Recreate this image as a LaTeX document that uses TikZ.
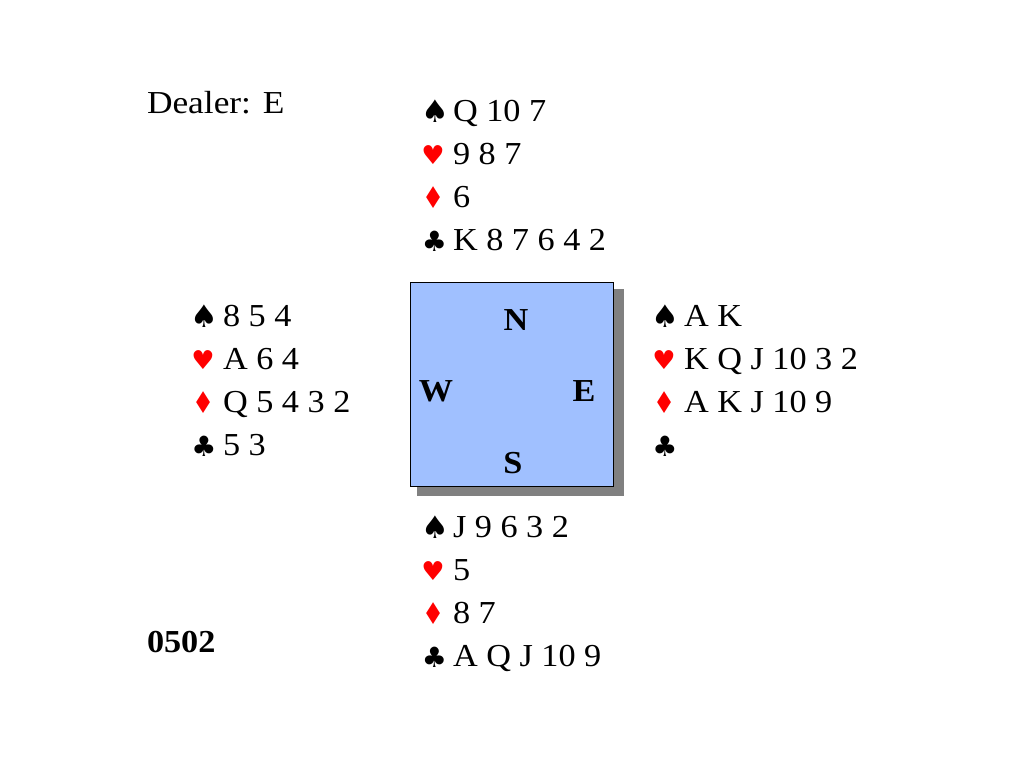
\documentclass[tikz,border=0pt]{standalone}
\usepackage{fontspec}
\setmainfont[FakeStretch=1.07]{Liberation Serif}
\newfontfamily\dealerfont[FakeStretch=1.105]{Liberation Serif}
\newfontfamily\suitfont{DejaVu Sans}
\newfontfamily\diamondfont[FakeStretch=0.82]{DejaVu Sans}
\definecolor{boxblue}{HTML}{A0C0FF}
\definecolor{suitred}{HTML}{FF0000}
\definecolor{shadowgray}{HTML}{808080}
\tikzset{
  x=1pt,y=-1pt,
  cardtext/.style={anchor=base west,inner sep=0pt,outer sep=0pt,font=\fontsize{32}{36}\selectfont},
  spadesuit/.style={anchor=base,inner sep=0pt,outer sep=0pt,text=black,font=\fontsize{31}{36}\suitfont},
  clubsuit/.style={anchor=base,inner sep=0pt,outer sep=0pt,text=black,font=\fontsize{28}{36}\suitfont},
  heartsuit/.style={anchor=base,inner sep=0pt,outer sep=0pt,text=suitred,font=\fontsize{26}{36}\suitfont},
  diamondsuit/.style={anchor=base,inner sep=0pt,outer sep=0pt,text=suitred,font=\fontsize{30}{36}\diamondfont},
  seat/.style={anchor=base,inner sep=0pt,outer sep=0pt,font=\fontsize{32}{36}\selectfont\bfseries},
  tablebox/.style={draw=black,line width=1.2pt,fill=boxblue,minimum width=203pt,minimum height=203.5pt,inner sep=0pt,anchor=north west},
  shadowbox/.style={fill=shadowgray,draw=none,minimum width=207pt,minimum height=207pt,inner sep=0pt,anchor=north west},
}
\begin{document}
\begin{tikzpicture}
\useasboundingbox (0,0) rectangle (1024,768);
\fill[white] (0,0) rectangle (1024,768);
\node[cardtext,font=\fontsize{32}{36}\dealerfont] (dealer) at (147,113.5) {Dealer: E};
\node[cardtext,font=\fontsize{32}{36}\selectfont\bfseries] (board) at (147,652) {0502};
% table
\node[shadowbox] (shadow) at (417,289) {};
\node[tablebox] (table) at (410,282) {};
\node[seat] (n) at (516,330) {N};
\node[seat] (w) at (436,401) {W};
\node[seat] (e) at (584,401) {E};
\node[seat] (s) at (513,473) {S};
% North
\node[spadesuit] (ns) at (435,122) {♠};
\node[cardtext] (nst) at (453,121.5) {Q 10 7};
\node[heartsuit] (nh) at (433,164) {♥};
\node[cardtext] (nht) at (453,164.5) {9 8 7};
\node[diamondsuit] (nd) at (434,208) {♦};
\node[cardtext] (ndt) at (453,207.5) {6};
\node[clubsuit] (nc) at (434.5,251) {♣};
\node[cardtext] (nct) at (453,250.5) {K 8 7 6 4 2};
% West
\node[spadesuit] (ws) at (204,327) {♠};
\node[cardtext] (wst) at (223,326.5) {8 5 4};
\node[heartsuit] (wh) at (203,369) {♥};
\node[cardtext] (wht) at (223,369.5) {A 6 4};
\node[diamondsuit] (wd) at (204,413) {♦};
\node[cardtext] (wdt) at (223,412.5) {Q 5 4 3 2};
\node[clubsuit] (wc) at (204,456) {♣};
\node[cardtext] (wct) at (223,455.5) {5 3};
% East
\node[spadesuit] (es) at (665,327) {♠};
\node[cardtext] (est) at (684,326.5) {A K};
\node[heartsuit] (eh) at (664,369) {♥};
\node[cardtext] (eht) at (684,369.5) {K Q J 10 3 2};
\node[diamondsuit] (ed) at (665,413) {♦};
\node[cardtext] (edt) at (684,412.5) {A K J 10 9};
\node[clubsuit] (ec) at (665,456) {♣};
% South
\node[spadesuit] (ss) at (435,538) {♠};
\node[cardtext] (sst) at (453,537.5) {J 9 6 3 2};
\node[heartsuit] (sh) at (433,580) {♥};
\node[cardtext] (sht) at (453,580.5) {5};
\node[diamondsuit] (sd) at (434,624) {♦};
\node[cardtext] (sdt) at (453,623.5) {8 7};
\node[clubsuit] (sc) at (434.5,667) {♣};
\node[cardtext] (sct) at (453,666.5) {A Q J 10 9};
\end{tikzpicture}
\end{document}
